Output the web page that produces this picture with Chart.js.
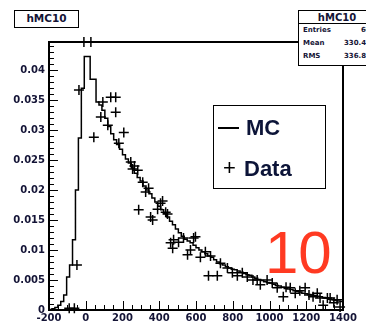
<!DOCTYPE html>
<html>
<head>
<meta charset="utf-8">
<script src="https://cdn.jsdelivr.net/npm/chart.js@4.4.1/dist/chart.umd.min.js"></script>
<style>
  html, body { margin: 0; padding: 0; background: #fff; }
  #wrap { position: relative; width: 366px; height: 326px; overflow: hidden; }
  #plot { position: absolute; left: 0; top: 0; }
  .box { position: absolute; background: #fff; border: 1.5px solid #000; box-sizing: border-box; color: #141436; }
  #title { left: 14px; top: 10px; width: 65px; height: 18px; font: bold 10.5px "DejaVu Sans"; text-align: center; line-height: 15px; }
  #stats { left: 298px; top: 10px; width: 78px; height: 56px; font: bold 7px "DejaVu Sans"; }
  #stats .head { height: 12px; border-bottom: 1.5px solid #000; text-align: center; font-size: 10px; line-height: 13px; }
  #stats .row { position: relative; height: 13px; line-height: 13px; padding-left: 4px; }
  #stats .row .val { position: absolute; left: 45px; top: 0; }
  #legend { left: 213px; top: 105px; width: 113px; height: 84px; font: bold 22px "Liberation Sans"; color: #0c1438; }
  #legend .l1 { position: absolute; left: 32px; top: 9px; }
  #legend .dash { position: absolute; left: 4px; top: 21px; width: 21px; height: 2px; background: #000; }
  #legend .l2 { position: absolute; left: 30px; top: 50px; }
  #legend .plus { position: absolute; left: 9px; top: 49px; color: #000; font-weight: normal; }
  #tag { position: absolute; left: 265px; top: 218px; font: 60px "Liberation Sans"; color: #ff3a22; }
</style>
</head>
<body>
<div id="wrap">
  <canvas id="plot" width="366" height="326"></canvas>
  <div id="title" class="box">hMC10</div>
  <div id="stats" class="box">
    <div class="head">hMC10</div>
    <div class="row">Entries<span class="val" style="left:62px">6000</span></div>
    <div class="row">Mean<span class="val">330.4</span></div>
    <div class="row">RMS<span class="val">336.8</span></div>
  </div>
  <div id="legend" class="box">
    <div class="dash"></div><div class="l1">MC</div>
    <div class="plus">+</div><div class="l2">Data</div>
  </div>
  <div id="tag">10</div>
</div>
<script>
// MC histogram: 100 bins of 16 from -200 to 1400
const mcLowEdge = -200;
const mcBinWidth = 16;
const mcValues = [
  0.0001, 0.0002, 0.0004, 0.0008, 0.0014, 0.0025, 0.0055, 0.0075, 0.0117, 0.0200,
  0.0287, 0.0370, 0.0423, 0.0423, 0.0385, 0.0385, 0.0347, 0.0342, 0.0333, 0.0320,
  0.0306, 0.0294, 0.0284, 0.0276, 0.0268, 0.0259, 0.0252, 0.0245, 0.0237, 0.0228,
  0.0221, 0.0215, 0.0207, 0.0200, 0.0194, 0.0187, 0.0180, 0.0173, 0.0167, 0.0161,
  0.0155, 0.0148, 0.0142, 0.0135, 0.0129, 0.0123, 0.0118, 0.0115, 0.0112, 0.0108,
  0.0104, 0.0100, 0.0097, 0.0094, 0.0090, 0.0088, 0.0084, 0.0080, 0.0077, 0.0075,
  0.0072, 0.0070, 0.0068, 0.0067, 0.0065, 0.0063, 0.0061, 0.0059, 0.0058, 0.0055,
  0.0053, 0.0051, 0.0049, 0.0047, 0.0046, 0.0045, 0.0043, 0.0041, 0.0040, 0.0038,
  0.0036, 0.0035, 0.0034, 0.0032, 0.0031, 0.0030, 0.0028, 0.0027, 0.0026, 0.0025,
  0.0024, 0.0023, 0.0022, 0.0021, 0.0020, 0.0018, 0.0017, 0.0016, 0.0015, 0.0014
];

// measured points
const dataX = [
  -90, -62, -48, -37, -10, 28, 44, 82, 93, 120,
  136, 163, 163, 180, 207, 245, 255, 265, 283, 288,
  310, 326, 342, 353, 364, 391, 407, 418, 435, 445,
  462, 473, 478, 505, 532, 554, 570, 587, 597, 624,
  651, 668, 679, 716, 733, 771, 798, 825, 852, 879,
  910, 933, 950, 987, 1015, 1042, 1075, 1090, 1113, 1140,
  1165, 1194, 1215, 1237, 1260, 1275, 1292, 1315, 1330, 1350,
  1368, 1384
];
const dataY = [
  0.0003, 0.0003, 0.0075, 0.0367, 0.0447, 0.0447, 0.0288, 0.0322, 0.0347, 0.0308,
  0.0355, 0.0355, 0.0330, 0.0278, 0.0296, 0.0247, 0.0235, 0.0240, 0.0233, 0.0167,
  0.0213, 0.0197, 0.0203, 0.0155, 0.0150, 0.0168, 0.0178, 0.0182, 0.0163, 0.0160,
  0.0112, 0.0103, 0.0117, 0.0113, 0.0120, 0.0092, 0.0100, 0.0120, 0.0122, 0.0088,
  0.0097, 0.0057, 0.0090, 0.0057, 0.0078, 0.0070, 0.0062, 0.0057, 0.0062, 0.0055,
  0.0050, 0.0050, 0.0042, 0.0050, 0.0045, 0.0037, 0.0022, 0.0038, 0.0037, 0.0028,
  0.0032, 0.0037, 0.0025, 0.0022, 0.0028, 0.0020, 0.0008, 0.0020, 0.0020, 0.0012,
  0.0017, 0.0005
];

const xTickValues = [-200, 0, 200, 400, 600, 800, 1000, 1200, 1400];
const yTickValues = [0, 0.005, 0.01, 0.015, 0.02, 0.025, 0.03, 0.035, 0.04];
const yTickLabels = ['0', '0.005', '0.01', '0.015', '0.02', '0.025', '0.03', '0.035', '0.04'];

const mcPoints = mcValues.map((v, i) => ({ x: mcLowEdge + i * mcBinWidth, y: v }));
mcPoints.push({ x: mcLowEdge + mcValues.length * mcBinWidth, y: mcValues[mcValues.length - 1] });
const dataPoints = dataX.map((x, i) => ({ x: x, y: dataY[i] }));

const tickFont = { family: 'DejaVu Sans', weight: 'bold', size: 10 };

// frame with inward major/minor ticks
const framePlugin = {
  id: 'frame',
  afterDatasetsDraw(chart) {
    const { ctx, chartArea: a, scales } = chart;
    ctx.save();
    ctx.strokeStyle = '#000';
    ctx.lineWidth = 1;
    ctx.beginPath();
    for (let v = -200; v <= 1400; v += 50) {
      const px = Math.round(scales.x.getPixelForValue(v)) + 0.5;
      const len = v % 200 === 0 ? 9 : 5;
      ctx.moveTo(px, a.bottom);
      ctx.lineTo(px, a.bottom - len);
    }
    for (let i = 0; i <= 44; i++) {
      const py = Math.round(scales.y.getPixelForValue(i * 0.001)) + 0.5;
      const len = i % 5 === 0 ? 9 : 5;
      ctx.moveTo(a.left, py);
      ctx.lineTo(a.left + len, py);
    }
    ctx.stroke();
    ctx.lineWidth = 2;
    ctx.strokeRect(a.left, a.top, a.right - a.left, a.bottom - a.top);
    ctx.restore();
  }
};

new Chart(document.getElementById('plot'), {
  data: {
    datasets: [
      {
        type: 'line',
        label: 'MC',
        data: mcPoints,
        stepped: true,
        borderColor: '#000',
        borderWidth: 1.5,
        pointRadius: 0,
        fill: false
      },
      {
        type: 'scatter',
        label: 'Data',
        data: dataPoints,
        pointStyle: 'cross',
        pointRadius: 5,
        borderColor: '#000',
        borderWidth: 1.5,
        clip: 8
      }
    ]
  },
  options: {
    responsive: false,
    animation: false,
    layout: { padding: { top: 42, right: 23, left: 0, bottom: 0 } },
    plugins: { legend: { display: false }, tooltip: { enabled: false } },
    scales: {
      x: {
        type: 'linear',
        min: -200,
        max: 1400,
        afterBuildTicks: s => { s.ticks = xTickValues.map(v => ({ value: v })); },
        afterFit: s => { s.height = 16; },
        grid: { display: false, drawTicks: false },
        border: { display: false },
        ticks: { font: tickFont, color: '#141436', padding: 2, maxRotation: 0, autoSkip: false,
                 callback: v => String(v) }
      },
      y: {
        type: 'linear',
        min: 0,
        max: 0.0447,
        afterBuildTicks: s => { s.ticks = yTickValues.map(v => ({ value: v })); },
        afterFit: s => { s.width = 49; },
        grid: { display: false, drawTicks: false },
        border: { display: false },
        ticks: { font: tickFont, color: '#141436', padding: 4, autoSkip: false,
                 callback: (v, i) => yTickLabels[i] }
      }
    }
  },
  plugins: [framePlugin]
});
</script>
</body>
</html>
